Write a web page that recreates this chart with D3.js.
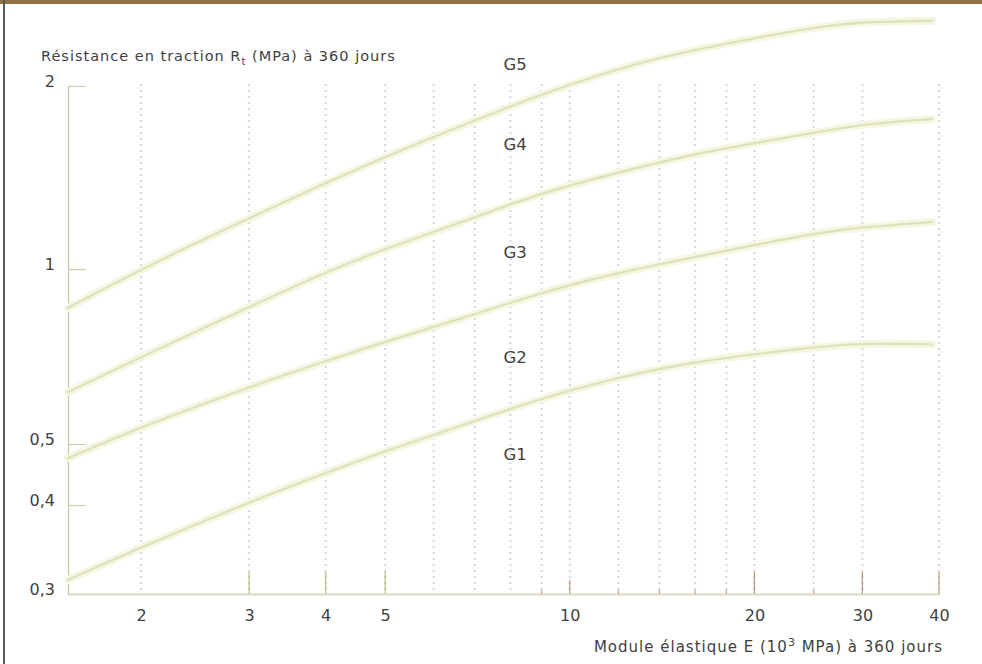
<!DOCTYPE html>
<html>
<head>
<meta charset="utf-8">
<script src="https://cdn.jsdelivr.net/npm/d3@7/dist/d3.min.js"></script>
<style>
  html, body { margin: 0; padding: 0; background: #ffffff; }
  svg { display: block; }
  text { font-family: "DejaVu Sans", sans-serif; fill: #3f3f3f; }
</style>
</head>
<body>
<svg id="chart" width="982" height="664"></svg>
<script>
// ---------- data ----------
const E_VALUES = [1.52, 2, 3, 4, 5, 6.7, 9, 12, 16, 25, 30, 39];           // E (10^3 MPa)
const LIMIT_G1_G2 = [0.314, 0.349, 0.404, 0.450, 0.487, 0.539, 0.600, 0.651, 0.694, 0.734, 0.746, 0.742];
const LIMIT_G2_G3 = [0.475, 0.535, 0.627, 0.694, 0.750, 0.823, 0.912, 0.986, 1.046, 1.146, 1.172, 1.195];
const LIMIT_G3_G4 = [0.614, 0.706, 0.860, 0.988, 1.080, 1.195, 1.337, 1.440, 1.551, 1.674, 1.732, 1.765];
const LIMIT_G4_G5 = [0.857, 1.000, 1.213, 1.385, 1.530, 1.725, 1.940, 2.140, 2.300, 2.500, 2.550, 2.560];
const LIMITS = [LIMIT_G1_G2, LIMIT_G2_G3, LIMIT_G3_G4, LIMIT_G4_G5];

const CLASS_LABELS = ["G1", "G2", "G3", "G4", "G5"];
const CLASS_LABEL_E = 7.8;
const CLASS_LABEL_RT = [0.482, 0.706, 1.065, 1.606, 2.17];

const X_TICKS = [2, 3, 4, 5, 10, 20, 30, 40];
const X_TICK_LABELS = ["2", "3", "4", "5", "10", "20", "30", "40"];
const X_MINOR_TICKS = [9, 12, 14, 16, 18, 25];
const X_GRID = [2, 3, 4, 5, 6, 7, 8, 9, 10, 12, 14, 16, 18, 20, 25, 30, 40];
const Y_TICKS = [0.3, 0.4, 0.5, 1, 2];
const Y_TICK_LABELS = ["0,3", "0,4", "0,5", "1", "2"];

const Y_TITLE = ["Résistance en traction R", "t", " (MPa) à 360 jours"];
const X_TITLE = ["Module élastique E (10", "3", " MPa) à 360 jours"];

// ---------- layout ----------
const svg = d3.select("#chart");
const x = d3.scaleLog().domain([1.52, 40]).range([68, 939]);
// piecewise log scale following the printed tick positions
const y = d3.scaleLog().domain([0.3, 0.4, 0.5, 1, 2]).range([594, 505, 444, 269, 86]);

// frame of the scanned page
svg.append("rect").attr("x", 0).attr("y", 0).attr("width", 982).attr("height", 4).attr("fill", "#93703f");
svg.append("rect").attr("x", 3).attr("y", 0).attr("width", 2).attr("height", 664).attr("fill", "#5a5a5a");

// vertical dotted grid
svg.append("g").selectAll("line").data(X_GRID).join("line")
  .attr("x1", d => x(d)).attr("x2", d => x(d))
  .attr("y1", y(2) - 2).attr("y2", y(0.3))
  .attr("stroke", "#dadae5").attr("stroke-width", 2.4)
  .attr("stroke-dasharray", "2,4");

// y axis
const yAxis = d3.axisLeft(y).tickValues(Y_TICKS).tickSizeInner(-18).tickSizeOuter(0)
  .tickPadding(13).tickFormat((d, i) => Y_TICK_LABELS[i]);
const gy = svg.append("g").attr("transform", "translate(68,0)").call(yAxis);
gy.select(".domain").attr("stroke", "#cbc39c").attr("stroke-width", 1.2);
gy.selectAll(".tick line").attr("stroke", "#cdd2a8").attr("stroke-width", 1.2);
gy.selectAll(".tick text").attr("font-size", 16).attr("dy", "0.05em")
  .attr("font-family", "DejaVu Sans, sans-serif").attr("fill", "#3f3f3f");

// x axis
const xAxis = d3.axisBottom(x).tickValues(X_TICKS).tickSize(0).tickPadding(16)
  .tickFormat((d, i) => X_TICK_LABELS[i]);
const gx = svg.append("g").attr("transform", "translate(0,594)").call(xAxis);
gx.select(".domain").attr("stroke", "#d9dcc2").attr("stroke-width", 2);
gx.selectAll(".tick text").attr("font-size", 16)
  .attr("font-family", "DejaVu Sans, sans-serif").attr("fill", "#3f3f3f");

// upward tick marks
svg.append("g").selectAll("line").data(X_TICKS.filter(d => d !== 2)).join("line")
  .attr("x1", d => x(d)).attr("x2", d => x(d))
  .attr("y1", d => y(0.3) - (d === 10 ? 14 : 22)).attr("y2", y(0.3))
  .attr("stroke", d => d <= 5 ? "#b9bd86" : "#b89a7a").attr("stroke-width", 1.2);
svg.append("g").selectAll("line").data(X_MINOR_TICKS).join("line")
  .attr("x1", d => x(d)).attr("x2", d => x(d))
  .attr("y1", y(0.3) - 4).attr("y2", y(0.3))
  .attr("stroke", "#c99a80").attr("stroke-width", 1.2);

// limit curves
const line = d3.line().x((d, i) => x(E_VALUES[i])).y(d => y(d)).curve(d3.curveBasis);
const gc = svg.append("g");
gc.selectAll("path.halo").data(LIMITS).join("path").attr("class", "halo")
  .attr("d", line).attr("fill", "none").attr("stroke", "#f6f7e2")
  .attr("stroke-width", 8).attr("stroke-linecap", "round");
gc.selectAll("path.core").data(LIMITS).join("path").attr("class", "core")
  .attr("d", line).attr("fill", "none").attr("stroke", "#dfe2bc")
  .attr("stroke-width", 2.4).attr("stroke-linecap", "round");

// class labels
svg.append("g").selectAll("text").data(CLASS_LABELS).join("text")
  .attr("x", x(CLASS_LABEL_E)).attr("y", (d, i) => y(CLASS_LABEL_RT[i]))
  .attr("dy", "0.36em").attr("font-size", 16.5).text(d => d);

// y title
const yt = svg.append("text").attr("x", 41).attr("y", 61).attr("font-size", 14.5)
  .attr("letter-spacing", 1);
yt.append("tspan").text(Y_TITLE[0]);
yt.append("tspan").attr("font-size", 10).attr("dy", 4).text(Y_TITLE[1]);
yt.append("tspan").attr("dy", -4).text(Y_TITLE[2]);

// x title
const xt = svg.append("text").attr("x", 943).attr("y", 652).attr("font-size", 15)
  .attr("letter-spacing", 1).attr("text-anchor", "end");
xt.append("tspan").text(X_TITLE[0]);
xt.append("tspan").attr("font-size", 11).attr("dy", -6).text(X_TITLE[1]);
xt.append("tspan").attr("dy", 6).text(X_TITLE[2]);
</script>
</body>
</html>
